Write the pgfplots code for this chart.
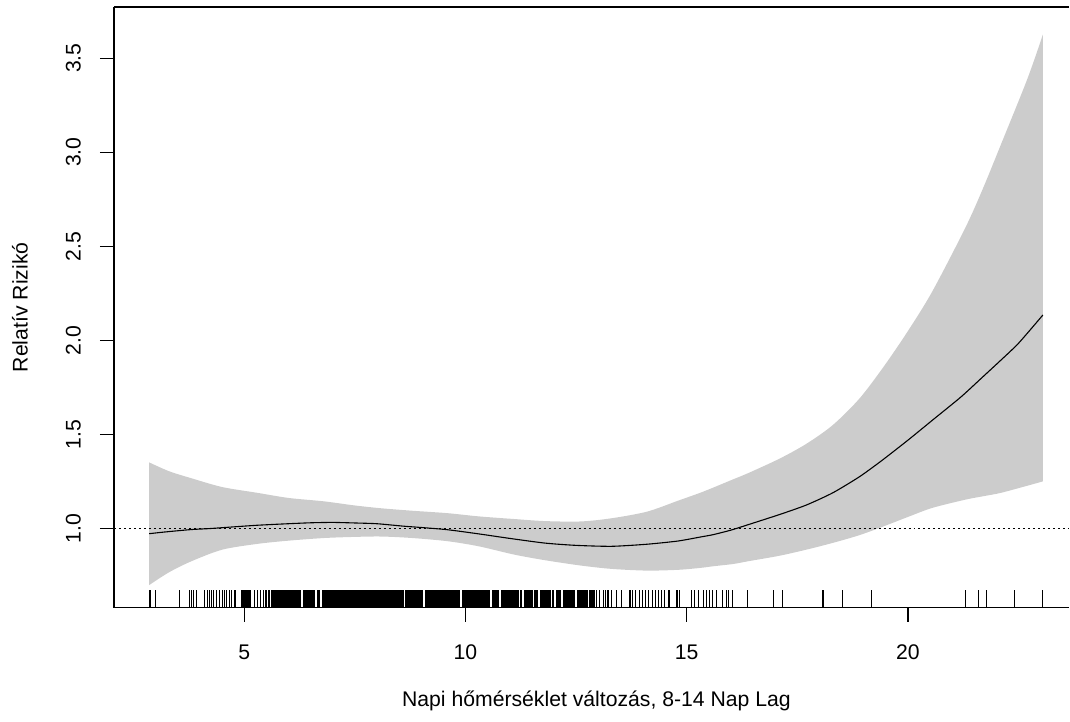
\documentclass[border=0pt]{standalone}
\usepackage{fontspec}
\setmainfont{Liberation Sans}
\usepackage{pgfplots}
\pgfplotsset{compat=1.18}
\usepgfplotslibrary{fillbetween}
\definecolor{bandgray}{HTML}{CCCCCC}
\newcommand{\lblfont}{\fontsize{10.6pt}{12pt}\selectfont}
\begin{document}
\begin{tikzpicture}
\begin{axis}[
  at={(0,0)}, anchor=south west,
  scale only axis, width=478pt, height=300.5pt,
  xmin=2.054, xmax=23.65, ymin=0.58, ymax=3.772,
  axis x line*=box, axis y line*=left,
  axis line style={line width=0.6pt},
  xtick={5,10,15,20}, ytick={1,1.5,2,2.5,3,3.5},
  xtick pos=left, ytick pos=left,
  tick align=outside, major tick length=7pt,
  tick style={line width=0.6pt, black},
  /pgf/number format/assume math mode=true,
  yticklabel style={/pgf/number format/fixed, /pgf/number format/fixed zerofill, /pgf/number format/precision=1, rotate=90, anchor=south, font=\lblfont},
  yticklabel shift=6pt,
  xticklabel style={font=\lblfont},
  xticklabel shift=8pt,
  xlabel={Napi hőmérséklet változás, 8-14 Nap Lag},
  ylabel={Relatív Rizikó},
  every axis x label/.style={at={(axis description cs:0.505,-0.155)}, anchor=center, font=\lblfont},
  every axis y label/.style={at={(axis description cs:-0.0983,0.5)}, rotate=90, anchor=center, font=\lblfont},
]
\addplot[name path=upper, draw=none, smooth, tension=0.5] coordinates {
(2.85,1.352) (3.3,1.305) (3.8,1.268) (4.5,1.221) (5.3,1.190) (6.0,1.163) (6.8,1.145) (7.5,1.123) (8.1,1.108) (8.8,1.095) (9.6,1.082) (10.3,1.065) (11.1,1.051) (11.8,1.040) (12.6,1.038) (13.3,1.055) (14.1,1.090) (14.8,1.148) (15.3,1.190) (15.6,1.218) (16.05,1.262) (16.4,1.296) (17.1,1.372) (17.7,1.45) (18.3,1.55) (18.9,1.69) (19.45,1.86) (20.0,2.05) (20.55,2.26) (21.3,2.60) (21.7,2.81) (22.1,3.04) (22.7,3.39) (23.05,3.625)
};
\addplot[name path=lower, draw=none, smooth, tension=0.5] coordinates {
(2.85,0.700) (3.3,0.768) (3.8,0.826) (4.5,0.888) (5.3,0.919) (6.0,0.936) (6.8,0.950) (7.5,0.956) (8.1,0.958) (8.8,0.950) (9.6,0.933) (10.3,0.906) (11.1,0.862) (11.8,0.832) (12.6,0.804) (13.3,0.786) (14.1,0.777) (14.8,0.781) (15.3,0.791) (15.6,0.800) (16.05,0.812) (16.4,0.827) (17.1,0.856) (17.7,0.888) (18.3,0.924) (18.9,0.965) (19.45,1.012) (20.0,1.062) (20.55,1.110) (21.3,1.154) (21.7,1.172) (22.1,1.190) (22.7,1.228) (23.05,1.251)
};
\addplot[bandgray] fill between[of=upper and lower];
\addplot[black, line width=0.6pt, dash pattern=on 1pt off 1.5pt] coordinates {(2.054,1) (23.65,1)};
\addplot[black, line width=0.55pt, smooth, tension=0.4] coordinates {
(2.85,0.973) (3.2,0.982) (3.8,0.995) (4.2,1.000) (4.8,1.010) (5.3,1.018) (5.9,1.025) (6.5,1.031) (7.0,1.033) (7.5,1.030) (8.0,1.026) (8.6,1.013) (9.0,1.006) (9.6,0.994) (10.3,0.972) (11.0,0.948) (11.8,0.923) (12.5,0.911) (13.3,0.906) (14.1,0.917) (14.8,0.934) (15.3,0.955) (15.6,0.968) (16.0,0.992) (16.35,1.018) (17.1,1.075) (17.7,1.125) (18.3,1.19) (18.9,1.275) (19.4,1.36) (20.0,1.47) (20.6,1.585) (21.2,1.70) (21.7,1.808) (22.1,1.895) (22.5,1.985) (23.05,2.135)
};
% rug: isolated observations
\addplot[black, line width=0.55pt, ycomb] coordinates {
(2.87,0.6756) (2.99,0.6756) (3.53,0.6756) (3.76,0.6756) (3.81,0.6756) (3.86,0.6756) (3.92,0.6756) (4.11,0.6756) (4.16,0.6756) (4.21,0.6756) (4.26,0.6756) (4.31,0.6756) (4.37,0.6756) (4.43,0.6756) (4.50,0.6756) (4.56,0.6756) (4.60,0.6756) (4.66,0.6756) (4.71,0.6756) (4.77,0.6756) (4.80,0.6756) (5.24,0.6756) (5.30,0.6756) (5.37,0.6756) (5.43,0.6756) (5.49,0.6756) (5.54,0.6756) (5.58,0.6756)
(12.96,0.6756) (13.03,0.6756) (13.11,0.6756) (13.16,0.6756) (13.22,0.6756) (13.30,0.6756) (13.41,0.6756) (13.52,0.6756) (13.70,0.6756) (13.73,0.6756) (13.77,0.6756) (13.84,0.6756) (13.94,0.6756) (14.00,0.6756) (14.07,0.6756) (14.14,0.6756) (14.22,0.6756) (14.29,0.6756) (14.37,0.6756) (14.43,0.6756) (14.49,0.6756) (14.60,0.6756) (14.78,0.6756) (14.84,0.6756) (15.10,0.6756) (15.18,0.6756) (15.26,0.6756) (15.37,0.6756) (15.44,0.6756) (15.52,0.6756) (15.59,0.6756) (15.68,0.6756) (15.80,0.6756) (15.89,0.6756) (15.95,0.6756) (16.04,0.6756) (16.38,0.6756) (16.96,0.6756) (17.16,0.6756) (18.08,0.6756) (18.53,0.6756) (19.18,0.6756) (21.30,0.6756) (21.60,0.6756) (21.77,0.6756) (22.41,0.6756) (23.05,0.6756)
};
% rug: dense observations
\addplot[black, line width=1pt, ycomb] coordinates {
(4.94,0.6756) (4.98,0.6756) (5.02,0.6756) (5.06,0.6756) (5.10,0.6756) (5.14,0.6756)
(5.62,0.6756) (5.66,0.6756) (5.70,0.6756) (5.74,0.6756) (5.78,0.6756) (5.82,0.6756) (5.86,0.6756) (5.90,0.6756) (5.94,0.6756) (5.98,0.6756) (6.02,0.6756) (6.06,0.6756) (6.10,0.6756) (6.14,0.6756) (6.18,0.6756) (6.22,0.6756) (6.26,0.6756) (6.34,0.6756) (6.38,0.6756) (6.42,0.6756) (6.46,0.6756) (6.50,0.6756) (6.54,0.6756) (6.58,0.6756) (6.66,0.6756) (6.70,0.6756) (6.78,0.6756) (6.82,0.6756) (6.86,0.6756) (6.90,0.6756) (6.94,0.6756) (6.98,0.6756)
(7.02,0.6756) (7.06,0.6756) (7.10,0.6756) (7.14,0.6756) (7.18,0.6756) (7.22,0.6756) (7.26,0.6756) (7.30,0.6756) (7.34,0.6756) (7.38,0.6756) (7.42,0.6756) (7.46,0.6756) (7.50,0.6756) (7.54,0.6756) (7.58,0.6756) (7.62,0.6756) (7.66,0.6756) (7.70,0.6756) (7.74,0.6756) (7.78,0.6756) (7.82,0.6756) (7.86,0.6756) (7.90,0.6756) (7.94,0.6756) (7.98,0.6756)
(8.02,0.6756) (8.06,0.6756) (8.10,0.6756) (8.14,0.6756) (8.18,0.6756) (8.22,0.6756) (8.26,0.6756) (8.30,0.6756) (8.34,0.6756) (8.38,0.6756) (8.42,0.6756) (8.46,0.6756) (8.50,0.6756) (8.54,0.6756) (8.58,0.6756) (8.66,0.6756) (8.70,0.6756) (8.74,0.6756) (8.78,0.6756) (8.82,0.6756) (8.86,0.6756) (8.90,0.6756) (8.94,0.6756) (8.98,0.6756)
(9.02,0.6756) (9.10,0.6756) (9.14,0.6756) (9.18,0.6756) (9.22,0.6756) (9.26,0.6756) (9.30,0.6756) (9.34,0.6756) (9.38,0.6756) (9.42,0.6756) (9.46,0.6756) (9.50,0.6756) (9.54,0.6756) (9.58,0.6756) (9.62,0.6756) (9.66,0.6756) (9.70,0.6756) (9.74,0.6756) (9.78,0.6756) (9.82,0.6756) (9.86,0.6756) (9.94,0.6756) (9.98,0.6756)
(10.02,0.6756) (10.06,0.6756) (10.10,0.6756) (10.14,0.6756) (10.18,0.6756) (10.22,0.6756) (10.26,0.6756) (10.30,0.6756) (10.34,0.6756) (10.38,0.6756) (10.42,0.6756) (10.46,0.6756) (10.50,0.6756) (10.54,0.6756) (10.62,0.6756) (10.66,0.6756) (10.70,0.6756) (10.74,0.6756) (10.82,0.6756) (10.86,0.6756) (10.90,0.6756) (10.94,0.6756) (10.98,0.6756)
(11.02,0.6756) (11.06,0.6756) (11.10,0.6756) (11.14,0.6756) (11.18,0.6756) (11.26,0.6756) (11.34,0.6756) (11.38,0.6756) (11.42,0.6756) (11.46,0.6756) (11.50,0.6756) (11.58,0.6756) (11.62,0.6756) (11.70,0.6756) (11.74,0.6756) (11.78,0.6756) (11.82,0.6756) (11.86,0.6756) (11.90,0.6756) (11.98,0.6756)
(12.06,0.6756) (12.10,0.6756) (12.14,0.6756) (12.22,0.6756) (12.26,0.6756) (12.30,0.6756) (12.34,0.6756) (12.38,0.6756) (12.42,0.6756) (12.46,0.6756) (12.54,0.6756) (12.58,0.6756) (12.62,0.6756) (12.66,0.6756) (12.70,0.6756) (12.74,0.6756) (12.82,0.6756) (12.86,0.6756) (12.90,0.6756)
};
\end{axis}
\path (-57pt,-57pt) rectangle (478pt,304pt);
\end{tikzpicture}
\end{document}
